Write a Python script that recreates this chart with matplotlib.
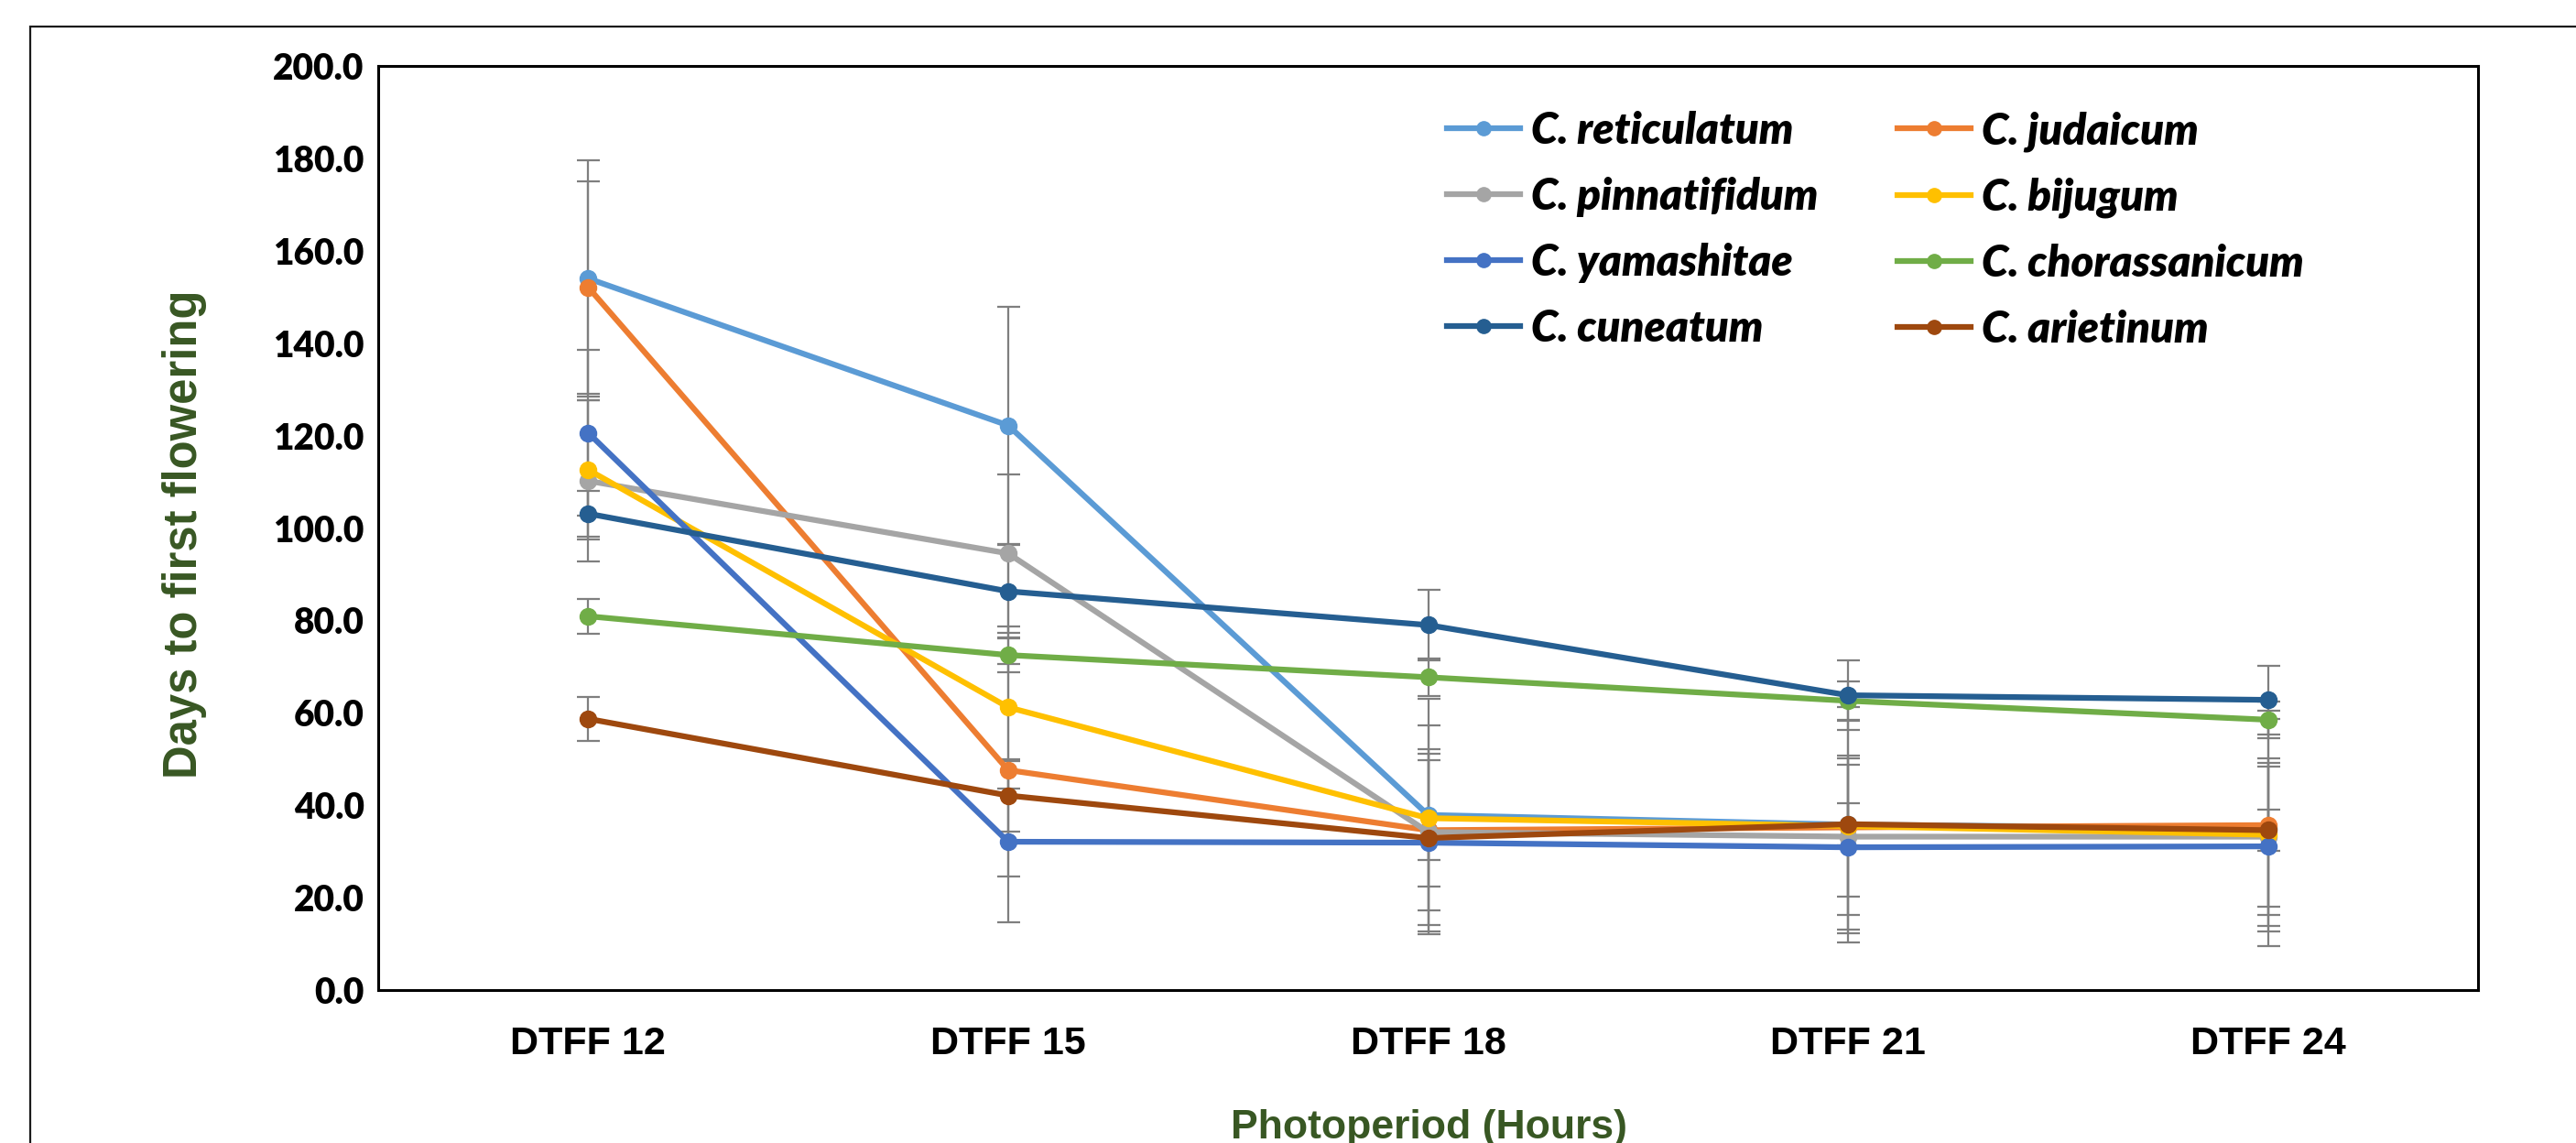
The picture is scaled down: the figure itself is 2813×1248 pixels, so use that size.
import matplotlib
matplotlib.use("Agg")
import matplotlib.pyplot as plt
from matplotlib.lines import Line2D
from matplotlib.patches import Rectangle
import numpy as np

categories = ["DTFF 12", "DTFF 15", "DTFF 18", "DTFF 21", "DTFF 24"]

species = ["C. reticulatum", "C. judaicum", "C. pinnatifidum", "C. bijugum",
           "C. yamashitae", "C. chorassanicum", "C. cuneatum", "C. arietinum"]

reticulatum = [154.0, 122.2, 37.9, 35.8, 35.0]
judaicum = [152.1, 47.6, 34.6, 35.2, 35.7]
pinnatifidum = [110.2, 94.5, 34.2, 33.2, 33.2]
bijugum = [112.6, 61.2, 37.2, 35.5, 33.6]
yamashitae = [120.6, 32.1, 31.9, 30.9, 31.1]
chorassanicum = [80.9, 72.5, 67.7, 62.6, 58.5]
cuneatum = [103.1, 86.3, 79.0, 63.8, 62.8]
arietinum = [58.7, 42.1, 32.9, 35.9, 34.6]

err_reticulatum = [25.5, 25.6, 25.2, 25.5, 25.5]
err_judaicum = [23.0, 23.0, 22.6, 23.0, 23.0]
err_pinnatifidum = [17.5, 17.1, 16.9, 16.9, 17.0]
err_bijugum = [15.0, 17.5, 14.9, 15.2, 15.5]
err_yamashitae = [18.0, 17.5, 17.9, 17.9, 17.2]
err_chorassanicum = [3.8, 3.7, 4.0, 4.1, 4.0]
err_cuneatum = [5.0, 10.0, 7.6, 7.6, 7.4]
err_arietinum = [4.7, 7.8, 4.8, 4.6, 4.5]

values = [reticulatum, judaicum, pinnatifidum, bijugum,
          yamashitae, chorassanicum, cuneatum, arietinum]
errors = [err_reticulatum, err_judaicum, err_pinnatifidum, err_bijugum,
          err_yamashitae, err_chorassanicum, err_cuneatum, err_arietinum]
colors = ["#5B9BD5", "#ED7D31", "#A5A5A5", "#FFC000",
          "#4472C4", "#70AD47", "#255E91", "#9E480E"]

W, H = 2813, 1248
fig = plt.figure(figsize=(W / 100, H / 100), dpi=100)

def fx(px):
    return px / W

def fy(py):
    return 1 - py / H

# outer chart frame (extends beyond right/bottom edges)
fig.patches.append(Rectangle((fx(33), fy(1300)), fx(2900) - fx(33), fy(29) - fy(1300),
                             transform=fig.transFigure, fill=False,
                             edgecolor="#1a1a1a", linewidth=1.6, zorder=0))

left, right, top, bottom = 413, 2706, 72, 1081
ax = fig.add_axes([fx(left), fy(bottom), fx(right) - fx(left), fy(top) - fy(bottom)])

x = np.arange(len(categories))
for vals, errs in zip(values, errors):
    ax.errorbar(x, vals, yerr=errs, fmt="none", ecolor="#7F7F7F",
                elinewidth=1.6, capsize=9, capthick=1.6, zorder=2)
for i, (name, vals, c) in enumerate(zip(species, values, colors)):
    ax.plot(x, vals, color=c, linewidth=4.5, marker="o", markersize=13,
            zorder=3 + i, label=name)

ax.set_xlim(-0.5, len(categories) - 0.5)
ax.set_ylim(0, 200)
yt = np.arange(0, 201, 20)
ax.set_yticks(yt)
ax.set_yticklabels([f"{v:.1f}" for v in yt],
                   fontfamily="Lato", fontweight="heavy", fontsize=28)
ax.set_xticks(x)
ax.set_xticklabels(categories, fontfamily="Liberation Sans", fontweight="bold", fontsize=31)
ax.tick_params(axis="y", length=0, pad=11)
ax.tick_params(axis="x", length=0, pad=28)
for s in ax.spines.values():
    s.set_linewidth(2.2)
    s.set_color("black")

green = "#385723"
fig.text(fx(202), fy(583), "Days to first flowering", rotation=90, ha="center", va="center",
         fontfamily="Liberation Sans", fontweight="bold", fontsize=36.5, color=green)
fig.text(fx(1560), fy(1243), "Photoperiod (Hours)", ha="center", va="baseline",
         fontfamily="Liberation Sans", fontweight="bold", fontsize=32, color=green)

# legend: two columns, row-major like the source
order = [0, 2, 4, 6, 1, 3, 5, 7]
leg_handles = [Line2D([], [], color=colors[i], linewidth=4.5, marker="o", markersize=11)
               for i in order]
leg_labels = [species[i] for i in order]
fig.legend(leg_handles, leg_labels, ncol=2, loc="upper left",
           bbox_to_anchor=(fx(1580), fy(121)), bbox_transform=fig.transFigure,
           frameon=False, borderpad=0, borderaxespad=0,
           handlelength=1.7, handletextpad=0.25, columnspacing=1.82,
           labelspacing=0.59, numpoints=1,
           prop={"family": "Lato", "weight": "heavy", "style": "italic", "size": 34})

fig.savefig("out.png", dpi=100)
